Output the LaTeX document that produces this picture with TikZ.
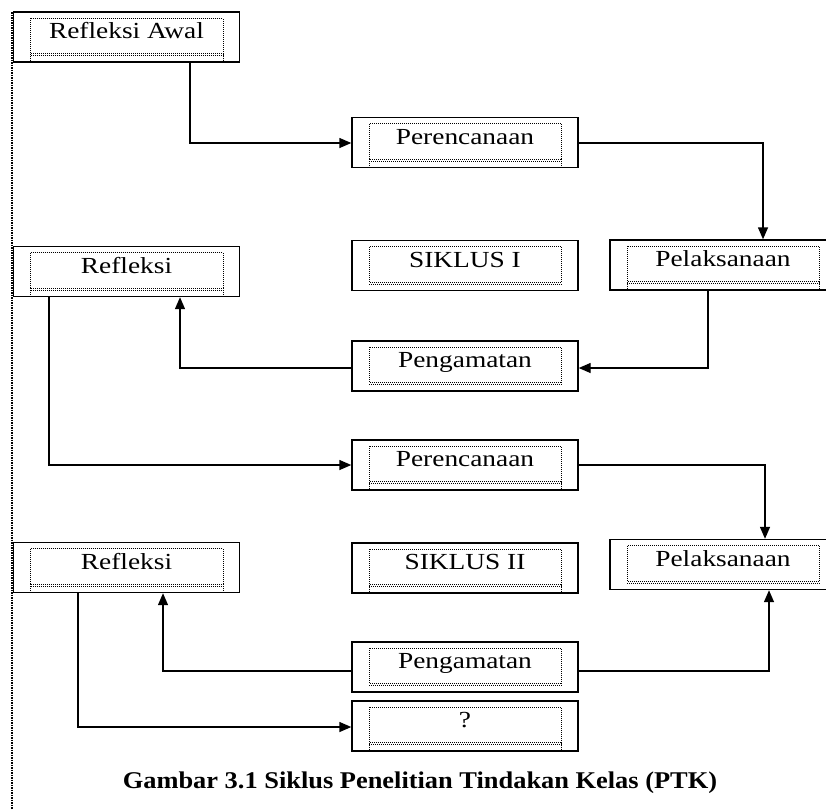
\documentclass[tikz,border=0pt]{standalone}
\usepackage{fontspec}
\setmainfont{Liberation Serif}[FakeStretch=1.19]
\newfontfamily\capfont{Liberation Serif}[FakeStretch=1.1]
\usetikzlibrary{arrows.meta,calc}
\tikzset{
  box/.style={draw, line width=1.4pt, minimum width=226pt, minimum height=50pt,
    inner sep=0pt, text height=16pt, text depth=13pt, font=\fontsize{23}{25}\selectfont},
  dotsty/.style={line width=1pt, dash pattern=on 1pt off 1pt},
  conn/.style={line width=1.4pt, -{Triangle[length=12pt,width=10pt]}},
}
\newcommand\innerdots[2]{%
  \draw[dotsty] ($(#1.north west)+(18,7)$) rectangle ($(#1.south east)+(-17,-9)$);
  \draw[dotsty] ($(#1.south west)+(18,-7)$) -- ($(#1.south east)+(-17,-7)$);
  \ifnum#2=1
    \draw[dotsty] ($(#1.south west)+(18,-9)$) -- ($(#1.south west)+(18,0)$);
    \draw[dotsty] ($(#1.south east)+(-17,-9)$) -- ($(#1.south east)+(-17,0)$);
  \fi}
\begin{document}
\begin{tikzpicture}[x=1pt,y=-1pt]
\useasboundingbox (0,0) rectangle (826,809);
\fill[white] (0,0) rectangle (826,809);
% left dotted margin line
\coordinate (mt) at (12,12);
\coordinate (mb) at (12,809);
\draw[line width=1.5pt, dash pattern=on 1.5pt off 1pt] (mt) -- (mb);

\node[box] (RA) at (126.5,37) {Refleksi Awal};
\node[box] (P1) at (465,142.5) {Perencanaan};
\node[box] (S1) at (465,265.5) {SIKLUS I};
\node[box] (L1) at (723,265) {Pelaksanaan};
\node[box] (R1) at (126.5,271.5) {Refleksi};
\node[box] (G1) at (465,366) {Pengamatan};
\node[box] (P2) at (465,465) {Perencanaan};
\node[box] (R2) at (126.5,567.5) {Refleksi};
\node[box] (S2) at (465,568) {SIKLUS II};
\node[box] (L2) at (723,564.5) {Pelaksanaan};
\node[box] (G2) at (465,667) {Pengamatan};
\node[box] (Q)  at (465,726) {?};

\innerdots{RA}{1}
\innerdots{P1}{1}
\innerdots{S1}{0}
\innerdots{L1}{1}
\innerdots{R1}{1}
\innerdots{G1}{0}
\innerdots{P2}{1}
\innerdots{R2}{1}
\innerdots{S2}{1}
\innerdots{L2}{0}
\innerdots{G2}{0}
\innerdots{Q}{1}

\coordinate (c1) at (190,143);
\coordinate (c2) at (763,143);
\coordinate (c3) at (708,368);
\coordinate (c4) at (180,368);
\coordinate (c5) at (49,465);
\coordinate (c6) at (765,465);
\coordinate (c7) at (163,671);
\coordinate (c8) at (769,671);
\coordinate (c9) at (78,727);

\draw[conn] (c1 |- RA.south) -- (c1) -- (c1 -| P1.west);
\draw[conn] (P1.east |- c2) -- (c2) -- (c2 |- L1.north);
\draw[conn] (c3 |- L1.south) -- (c3) -- (c3 -| G1.east);
\draw[conn] (G1.west |- c4) -- (c4) -- (c4 |- R1.south);
\draw[conn] (c5 |- R1.south) -- (c5) -- (c5 -| P2.west);
\draw[conn] (P2.east |- c6) -- (c6) -- (c6 |- L2.north);
\draw[conn] (G2.west |- c7) -- (c7) -- (c7 |- R2.south);
\draw[conn] (G2.east |- c8) -- (c8) -- (c8 |- L2.south);
\draw[conn] (c9 |- R2.south) -- (c9) -- (c9 -| Q.west);

\node[font=\capfont\bfseries\fontsize{24}{26}\selectfont] (cap) at (420,783)
  {Gambar 3.1 Siklus Penelitian Tindakan Kelas (PTK)};
\end{tikzpicture}
\end{document}
